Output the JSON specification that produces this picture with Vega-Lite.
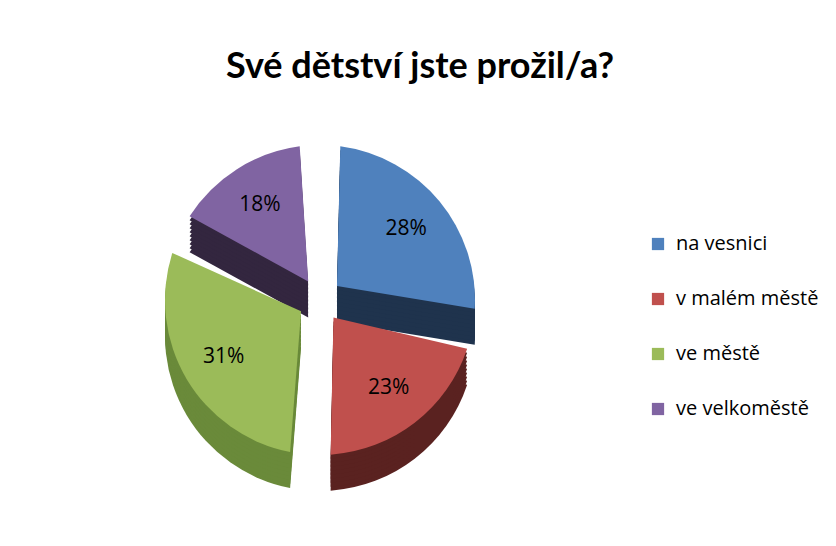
{
  "$schema": "https://vega.github.io/schema/vega-lite/v6.json",
  "width": 640,
  "height": 400,
  "autosize": {"type": "none"},
  "padding": {"left": 0, "top": 100, "right": 196, "bottom": 46},
  "background": "white",
  "config": {"view": {"stroke": null}},
  "title": {
    "text": "Své dětství jste prožil/a?",
    "font": "Lato",
    "fontSize": 36,
    "fontWeight": "bold",
    "color": "#000000",
    "anchor": "middle",
    "dx": 100,
    "offset": 14
  },
  "data": {
    "values": [
      {"cat": "na vesnici", "value": 0.28},
      {"cat": "v malém městě", "value": 0.23},
      {"cat": "ve městě", "value": 0.31},
      {"cat": "ve velkoměstě", "value": 0.18}
    ]
  },
  "encoding": {
    "theta": {"field": "value", "type": "quantitative", "stack": true},
    "order": {"field": "cat", "type": "ordinal", "sort": "ascending"}
  },
  "resolve": {"scale": {"color": "independent"}, "legend": {"color": "independent"}},
  "layer": [
    {
      "encoding": {"color": {"field": "cat", "type": "nominal", "legend": null,
        "scale": {"domain": ["na vesnici", "v malém městě", "ve městě", "ve velkoměstě"], "range": ["#1f334d", "#5a2220", "#6a8a3a", "#33263f"]}}},
      "layer": [
        {"mark": {"type": "arc", "radius": 155, "radius2": 22, "padAngle": 0.26, "yOffset": 36}},
        {"mark": {"type": "arc", "radius": 155, "radius2": 22, "padAngle": 0.26, "yOffset": 32}},
        {"mark": {"type": "arc", "radius": 155, "radius2": 22, "padAngle": 0.26, "yOffset": 28}},
        {"mark": {"type": "arc", "radius": 155, "radius2": 22, "padAngle": 0.26, "yOffset": 24}},
        {"mark": {"type": "arc", "radius": 155, "radius2": 22, "padAngle": 0.26, "yOffset": 20}},
        {"mark": {"type": "arc", "radius": 155, "radius2": 22, "padAngle": 0.26, "yOffset": 16}},
        {"mark": {"type": "arc", "radius": 155, "radius2": 22, "padAngle": 0.26, "yOffset": 12}},
        {"mark": {"type": "arc", "radius": 155, "radius2": 22, "padAngle": 0.26, "yOffset": 8}},
        {"mark": {"type": "arc", "radius": 155, "radius2": 22, "padAngle": 0.26, "yOffset": 4}}
      ]
    },
    {
      "encoding": {"color": {"field": "cat", "type": "nominal",
        "scale": {"domain": ["na vesnici", "v malém městě", "ve městě", "ve velkoměstě"], "range": ["#4f81bd", "#c0504d", "#9bbb59", "#8064a2"]},
        "legend": {"title": null, "orient": "none", "legendX": 648, "legendY": 134,
          "symbolType": "square", "symbolSize": 150, "symbolStrokeWidth": 0,
          "labelFont": "Open Sans", "labelFontSize": 20, "labelColor": "#000000",
          "rowPadding": 35, "labelOffset": 8}}},
      "layer": [
        {"mark": {"type": "arc", "radius": 155, "radius2": 22, "padAngle": 0.26}},
        {"mark": {"type": "text", "radius": 112, "font": "Open Sans", "fontSize": 21, "color": "#000000"},
         "encoding": {"color": {"value": "#000000"}, "text": {"field": "value", "type": "quantitative", "format": ".0%"}}}
      ]
    }
  ]
}
